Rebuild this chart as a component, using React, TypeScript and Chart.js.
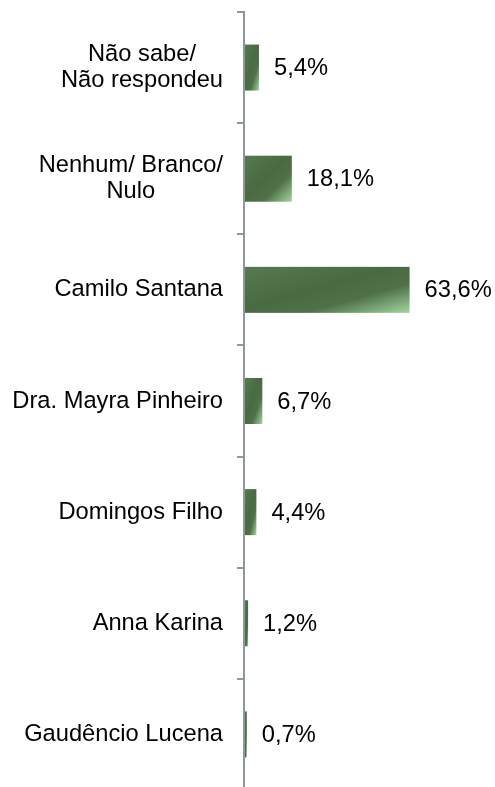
import React, { useEffect, useRef } from "react";
import { Chart, registerables } from "chart.js";

Chart.register(...registerables);

const categories: string[][] = [
  ["Não sabe/", "Não respondeu"],
  ["Nenhum/ Branco/", "Nulo"],
  ["Camilo Santana"],
  ["Dra. Mayra Pinheiro"],
  ["Domingos Filho"],
  ["Anna Karina"],
  ["Gaudêncio Lucena"],
];
const values: number[] = [5.4, 18.1, 63.6, 6.7, 4.4, 1.2, 0.7];

const FONT = "23.7px 'Liberation Sans', Arial, sans-serif";
const AXIS_COLOR = "#8e969e";
const AXIS_WIDTH = 2;

const fmt = (v: number) => v.toFixed(1).replace(".", ",") + "%";

const drawPlugin = {
  id: "customDraw",
  afterDatasetsDraw(chart: any) {
    const ctx = chart.ctx as CanvasRenderingContext2D;
    const meta = chart.getDatasetMeta(0);
    ctx.save();
    meta.data.forEach((el: any, i: number) => {
      const { x, y, base, height } = el.getProps(["x", "y", "base", "height"], true);
      // bars begin just right of the axis line
      const left = Math.min(base, x) + AXIS_WIDTH / 2;
      const right = Math.max(base, x) + AXIS_WIDTH / 2;
      const top = y - height / 2;
      const w = right - left;
      const h = height;
      if (w > 0) {
        const L2 = w * w + h * h;
        const g = ctx.createLinearGradient(
          left,
          top,
          left + (2 * w * h * h) / L2,
          top + (2 * w * w * h) / L2
        );
        g.addColorStop(0, "#557a51");
        g.addColorStop(0.45, "#4a6a42");
        g.addColorStop(0.68, "#4f7048");
        g.addColorStop(1, "#a3d6a0");
        ctx.fillStyle = g;
        ctx.fillRect(left, top, w, h);
      }
      ctx.font = FONT;
      ctx.fillStyle = "#000";
      ctx.textAlign = "left";
      ctx.textBaseline = "middle";
      ctx.fillText(fmt(values[i]), right + 15, y + 1);
    });

    // category labels, lines centered within a right-aligned block
    const yScale = chart.scales.y;
    const blockRight = 223;
    const lineH = 26.3;
    ctx.font = FONT;
    ctx.fillStyle = "#000";
    ctx.textAlign = "center";
    ctx.textBaseline = "middle";
    categories.forEach((lines, i) => {
      const cy = yScale.getPixelForValue(i);
      const bw = Math.max(...lines.map((l) => ctx.measureText(l).width));
      const cx = blockRight - bw / 2;
      const y0 = cy - ((lines.length - 1) * lineH) / 2;
      lines.forEach((l, j) => ctx.fillText(l, cx, y0 + j * lineH));
    });
    ctx.restore();
  },
};

export default function App() {
  const ref = useRef<HTMLCanvasElement | null>(null);
  useEffect(() => {
    if (!ref.current) return;
    const chart = new Chart(ref.current, {
      type: "bar",
      data: {
        labels: categories.map((c) => c.join(" ")),
        datasets: [
          {
            data: values,
            backgroundColor: "rgba(0,0,0,0)",
            borderWidth: 0,
            barPercentage: 0.414,
            categoryPercentage: 1,
          },
        ],
      },
      options: {
        indexAxis: "y",
        animation: false,
        responsive: false,
        maintainAspectRatio: false,
        devicePixelRatio: 1,
        layout: { padding: { top: 12, bottom: 10, left: 0, right: 0 } },
        plugins: {
          legend: { display: false },
          tooltip: { enabled: false },
          title: { display: false },
        },
        scales: {
          x: {
            display: false,
            min: 0,
            max: 97,
          },
          y: {
            offset: true,
            ticks: { display: false },
            grid: {
              display: true,
              drawOnChartArea: false,
              drawTicks: true,
              tickLength: 7,
              color: AXIS_COLOR,
              lineWidth: 2,
              offset: true,
            },
            border: { display: true, color: AXIS_COLOR, width: AXIS_WIDTH },
            afterFit: (scale: any) => {
              scale.width = 244;
            },
          },
        },
      },
      plugins: [drawPlugin],
    });
    return () => chart.destroy();
  }, []);

  return (
    <div
      style={{
        position: "fixed",
        top: 0,
        left: 0,
        width: 495,
        height: 787,
        overflow: "hidden",
        background: "#fff",
      }}
    >
      <canvas ref={ref} width={495} height={800} style={{ display: "block" }} />
    </div>
  );
}
